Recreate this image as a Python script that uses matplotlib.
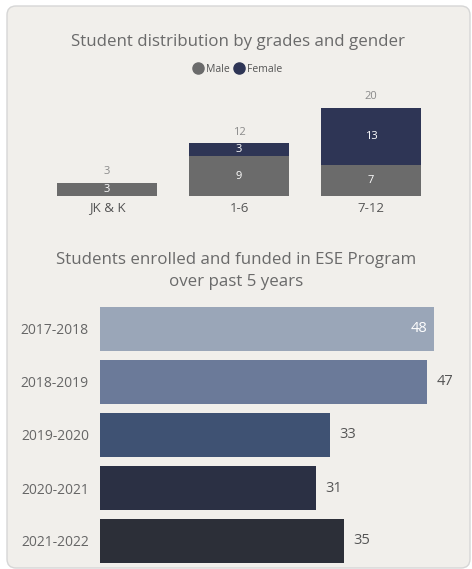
import matplotlib.pyplot as plt
from matplotlib.patches import FancyBboxPatch
from matplotlib.lines import Line2D

plt.rcParams['font.family'] = ['Open Sans', 'DejaVu Sans']

# top chart data
grades = ["JK & K", "1-6", "7-12"]
male = [3, 9, 7]
female = [0, 3, 13]

# bottom chart data
years = ["2017-2018", "2018-2019", "2019-2020", "2020-2021", "2021-2022"]
enrolled = [48, 47, 33, 31, 35]
year_colors = ["#9aa6b8", "#6b7a99", "#3f5273", "#2b3044", "#2c2f38"]

male_col = "#6b6b6b"
female_col = "#2e3555"
W, H = 472, 569

fig = plt.figure(figsize=(W / 100, H / 100), dpi=100)
fig.patch.set_facecolor("white")

# card background, on its own axes behind everything
bg = fig.add_axes([0, 0, 1, 1], zorder=-10)
bg.set_axis_off()
bg.set_xlim(0, W)
bg.set_ylim(H, 0)
bg.add_patch(FancyBboxPatch((7, 6), 463, 562, boxstyle="round,pad=0,rounding_size=9",
                            facecolor="#f1efeb", edgecolor="#d6d6d6", linewidth=1))


def px_axes(x0, y0, x1, y1):
    return fig.add_axes([x0 / W, 1 - y1 / H, (x1 - x0) / W, (y1 - y0) / H])


# ---- top chart
fig.text(238 / W, 1 - 42 / H, "Student distribution by grades and gender",
         ha="center", va="center", fontsize=12.2, color="#6a6a6a")
handles = [Line2D([], [], marker="o", ls="", color=male_col, markersize=8),
           Line2D([], [], marker="o", ls="", color=female_col, markersize=8)]
fig.legend(handles, ["Male", "Female"], loc="center", bbox_to_anchor=(238 / W, 1 - 69 / H),
           ncol=2, frameon=False, fontsize=7.5, handletextpad=0.4, columnspacing=0.5,
           labelcolor="#555555", handlelength=0.8)

ax1 = px_axes(41, 108, 437, 196)
ax1.set_facecolor("none")
xs = range(len(grades))
ax1.bar(xs, male, width=0.76, color=male_col)
ax1.bar(xs, female, width=0.76, bottom=male, color=female_col)
for i in xs:
    total = male[i] + female[i]
    ax1.text(i, male[i] / 2, str(male[i]), ha="center", va="center", color="white", fontsize=8)
    if female[i] > 0:
        ax1.text(i, male[i] + female[i] / 2, str(female[i]), ha="center", va="center",
                 color="white", fontsize=8)
    ax1.annotate(str(total), (i, total), xytext=(0, 4), textcoords="offset points",
                 ha="center", va="bottom", color="#8a8a8a", fontsize=8, annotation_clip=False)
ax1.set_xlim(-0.5, 2.5)
ax1.set_ylim(0, 20)
ax1.set_xticks(list(xs))
ax1.set_xticklabels(grades, fontsize=9.5, color="#555555")
ax1.tick_params(length=0, pad=4)
ax1.set_yticks([])
for s in ax1.spines.values():
    s.set_visible(False)

# ---- bottom chart
fig.text(236 / W, 1 - 271 / H, "Students enrolled and funded in ESE Program\nover past 5 years",
         ha="center", va="center", fontsize=12.2, color="#6a6a6a", linespacing=1.45)

ax2 = px_axes(100, 302.5, 448, 567.5)
ax2.set_facecolor("none")
ys = range(len(years))
ax2.barh(ys, enrolled, height=0.83, color=year_colors)
for i in ys:
    if i == 0:
        ax2.annotate(str(enrolled[i]), (enrolled[i], i), xytext=(-5, 0), textcoords="offset points",
                     ha="right", va="center", color="white", fontsize=10.5)
    else:
        ax2.annotate(str(enrolled[i]), (enrolled[i], i), xytext=(7, 0), textcoords="offset points",
                     ha="left", va="center", color="#555555", fontsize=10.5)
ax2.set_xlim(0, 50)
ax2.set_ylim(4.5, -0.5)
ax2.set_yticks(list(ys))
ax2.set_yticklabels(years, fontsize=10, color="#666666")
ax2.tick_params(length=0, pad=8)
ax2.set_xticks([])
for s in ax2.spines.values():
    s.set_visible(False)

fig.savefig("out.png", dpi=100)
